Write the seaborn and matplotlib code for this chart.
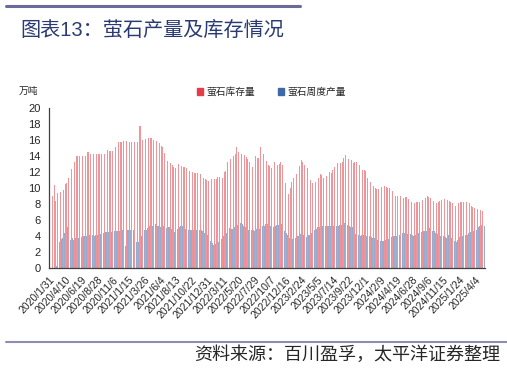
import pandas as pd
import matplotlib
matplotlib.use("Agg")
import matplotlib.pyplot as plt
from matplotlib.lines import Line2D
from matplotlib.patches import Patch
import seaborn as sns

# weekly fluorite inventory (万吨)
inventory = [
    9.1, 8.95, 8.95, 10.4, 8.4, 9.4, 9.45, 9.45, 9.5, 9.75,
    10.5, 10.6, 11.2, 11.5, 12.4, 12.8, 13.3, 14.0, 14.0, 14.0,
    14.0, 14.0, 14.3, 14.0, 14.5, 14.5, 14.25, 14.25, 14.25, 14.1,
    14.3, 14.25, 14.25, 14.25, 14.3, 14.3, 14.5, 14.75, 14.6, 14.6,
    14.6, 15.1, 15.1, 15.1, 15.8, 15.8, 15.8, 15.85, 8.6, 15.9,
    15.75, 15.8, 15.8, 15.8, 15.8, 15.8, 15.8, 17.8, 17.8, 16.0,
    16.0, 16.1, 16.2, 16.25, 16.25, 16.2, 16.0, 15.9, 15.9, 15.75,
    15.6, 15.2, 15.1, 14.4, 14.0, 13.4, 13.1, 13.1, 12.9, 12.6,
    12.5, 12.55, 13.0, 13.0, 12.7, 12.65, 12.6, 12.5, 12.3, 12.1,
    12.0, 11.95, 11.9, 11.85, 11.85, 11.85, 11.75, 11.6, 11.3, 11.1,
    10.95, 10.85, 11.05, 11.1, 11.1, 11.1, 11.15, 11.4, 11.35, 11.3,
    11.25, 12.0, 12.1, 13.3, 13.55, 13.6, 13.85, 14.0, 14.25, 15.1,
    14.5, 14.4, 14.3, 14.4, 14.1, 13.85, 13.6, 13.3, 12.9, 12.6,
    13.1, 14.0, 13.75, 13.8, 15.1, 14.5, 14.2, 13.75, 13.4, 12.9,
    12.7, 12.5, 12.5, 13.2, 13.1, 12.9, 13.0, 13.25, 12.9, 12.0,
    10.6, 9.25, 9.25, 10.0, 10.8, 11.25, 11.45, 11.75, 12.1, 12.8,
    13.55, 13.2, 12.9, 12.8, 12.5, 11.9, 11.0, 10.6, 10.5, 10.7,
    11.05, 11.25, 11.75, 11.6, 11.3, 11.25, 11.45, 12.0, 12.0, 11.9,
    12.3, 12.6, 12.9, 13.1, 13.25, 13.1, 13.3, 13.75, 14.1, 13.6,
    13.6, 13.7, 13.55, 13.1, 13.25, 13.25, 13.1, 12.9, 12.6, 12.3,
    12.2, 12.1, 11.3, 10.9, 10.75, 10.5, 10.2, 10.0, 9.9, 9.9,
    10.0, 10.1, 10.3, 10.2, 10.1, 10.0, 10.0, 9.9, 9.6, 9.1,
    9.0, 9.0, 8.7, 9.0, 9.0, 8.75, 8.9, 8.9, 8.6, 8.5,
    8.3, 8.2, 8.1, 8.25, 8.3, 8.25, 8.3, 8.5, 8.75, 8.8,
    8.95, 8.9, 8.8, 8.6, 8.4, 8.3, 8.1, 8.2, 8.4, 8.5,
    8.6, 8.6, 8.6, 8.5, 8.4, 8.25, 8.1, 7.8, 7.7, 7.9,
    8.1, 8.2, 8.3, 8.2, 8.3, 8.3, 8.25, 8.1, 7.7, 7.6,
    7.5, 7.5, 7.4, 7.3, 7.3, 7.1, 6.7,
]

# weekly fluorite output (万吨)
production = [
    0, 0, 0, 1.2, 0.3, 2.6, 3.3, 3.6, 3.7, 4.4,
    5.2, 5.1, 3.7, 3.5, 3.75, 3.55, 3.7, 3.75, 3.75, 3.8,
    3.9, 4.0, 4.0, 3.95, 4.1, 4.1, 4.1, 4.1, 4.05, 4.1,
    4.1, 4.15, 4.25, 4.4, 4.4, 4.45, 4.5, 4.5, 4.55, 4.5,
    4.6, 4.6, 4.6, 4.65, 4.6, 4.8, 4.75, 4.75, 2.7, 4.75,
    4.7, 4.7, 4.75, 4.7, 4.65, 3.3, 3.25, 3.7, 4.0, 4.3,
    4.7, 4.8, 5.0, 5.2, 5.3, 5.3, 5.35, 5.5, 5.2, 5.2,
    5.1, 5.2, 5.25, 5.15, 5.0, 5.1, 5.15, 4.9, 4.7, 4.5,
    4.7, 4.9, 5.15, 5.3, 5.3, 5.2, 4.9, 4.8, 4.8, 4.8,
    4.8, 4.8, 4.8, 4.8, 4.8, 4.8, 4.7, 4.6, 4.4, 4.25,
    4.1, 3.8, 3.4, 3.1, 2.9, 3.0, 3.1, 3.3, 3.55, 3.65,
    4.0, 4.3, 4.4, 4.9, 5.0, 4.9, 4.9, 5.1, 5.2, 5.4,
    5.65, 5.6, 5.5, 5.25, 5.1, 4.9, 4.8, 4.7, 4.7, 4.7,
    4.6, 4.9, 4.85, 4.85, 4.8, 5.2, 5.3, 5.5, 5.5, 5.5,
    5.2, 4.9, 5.1, 5.3, 5.4, 5.4, 5.5, 5.5, 4.8, 4.6,
    4.4, 4.1, 3.75, 3.65, 3.65, 3.6, 3.75, 3.95, 4.0, 4.25,
    4.1, 4.15, 3.95, 3.9, 4.1, 4.15, 4.4, 4.6, 4.8, 4.9,
    5.1, 5.15, 5.3, 5.25, 5.3, 5.25, 5.3, 5.25, 5.3, 5.25,
    5.2, 5.15, 5.3, 5.3, 5.35, 5.4, 5.5, 5.65, 5.6, 5.4,
    5.3, 5.15, 5.15, 4.8, 4.25, 4.25, 4.15, 4.0, 4.1, 4.1,
    4.1, 4.0, 3.95, 3.95, 3.85, 3.75, 3.75, 3.65, 3.55, 3.4,
    3.35, 3.35, 3.35, 3.45, 3.55, 3.6, 3.6, 3.9, 4.05, 4.05,
    4.05, 4.05, 4.15, 4.4, 4.4, 4.4, 4.4, 4.25, 4.25, 4.25,
    4.1, 3.95, 4.15, 4.4, 4.4, 4.4, 4.45, 4.6, 4.6, 4.6,
    4.9, 5.0, 4.9, 4.65, 4.6, 4.4, 4.25, 4.15, 4.05, 4.05,
    4.05, 3.9, 3.75, 4.1, 3.95, 3.75, 3.55, 3.35, 3.25, 3.55,
    3.85, 3.9, 4.05, 4.05, 4.1, 4.15, 4.4, 4.55, 4.6, 4.65,
    4.6, 4.8, 5.1, 5.2, 5.35, 5.4, 5.3,
]

tick_labels = [
    "2020/1/31", "2020/4/10", "2020/6/19", "2020/8/28", "2020/11/6",
    "2021/1/15", "2021/3/26", "2021/6/4", "2021/8/13", "2021/10/22",
    "2021/12/31", "2022/3/11", "2022/5/20", "2022/7/29", "2022/10/7",
    "2022/12/16", "2023/2/24", "2023/5/5", "2023/7/14", "2023/9/22",
    "2023/12/1", "2024/2/9", "2024/4/19", "2024/6/28", "2024/9/6",
    "2024/11/15", "2025/1/24", "2025/4/4",
]
series_names = ["萤石库存量", "萤石周度产量"]
colors = ["#e43c48", "#3e68a6"]

dates = pd.date_range("2020-01-31", periods=len(inventory), freq="7D")
date_labels = [f"{d.year}/{d.month}/{d.day}" for d in dates]

df = pd.DataFrame({
    "date": date_labels * 2,
    "series": [series_names[0]] * len(inventory) + [series_names[1]] * len(production),
    "value": inventory + production,
})

sns.set_theme(style="white")
plt.rcParams["font.family"] = ["Liberation Sans", "Noto Sans CJK SC"]

fig = plt.figure(figsize=(5.07, 3.71), dpi=100)
ax = fig.add_axes([49 / 507, 1 - 268 / 371, 436 / 507, 160 / 371])

sns.barplot(data=df, x="date", y="value", hue="series", order=date_labels,
            hue_order=series_names, palette=colors, dodge=True, width=0.9,
            errorbar=None, linewidth=0, saturation=1, legend=False, ax=ax)
# thin Excel-like columns render much lighter than their nominal colour
for p in ax.patches:
    p.set_alpha(0.55)

ax.set_xlim(-0.5, len(date_labels) - 0.5)
ax.set_ylim(0, 20)
ax.set_yticks(range(0, 21, 2))
ax.set_xticks([date_labels.index(t) for t in tick_labels])
ax.set_xticklabels(tick_labels, rotation=47, ha="right", rotation_mode="anchor", fontsize=7.5)
ax.tick_params(axis="y", direction="in", length=3, width=0.8, labelsize=8, pad=6, color="#404040")
ax.tick_params(axis="x", direction="out", length=3, width=0.8, pad=2, color="#404040")
ax.set_xlabel("")
ax.set_ylabel("")
for s in ["top", "right"]:
    ax.spines[s].set_visible(False)
for s in ["left", "bottom"]:
    ax.spines[s].set_color("#404040")
    ax.spines[s].set_linewidth(0.9)

handles = [Patch(color=c) for c in colors]
ax.legend(handles, series_names, loc="center", bbox_to_anchor=(0.51, 1.1), ncol=2,
          frameon=False, fontsize=7, handlelength=0.6, handleheight=0.6,
          handletextpad=0.3, columnspacing=2.4)

fig.text(28 / 507, 1 - 91 / 371, "万吨", ha="center", va="center", fontsize=7)

# header
fig.add_artist(Line2D([6 / 507, 300 / 507], [1 - 6 / 371] * 2, color="#6b6b9b", lw=2.2))
fig.text(20 / 507, 1 - 30 / 371, "图表13：萤石产量及库存情况", fontsize=14.5,
         color="#2a3b74", ha="left", va="center")

# footer
fig.add_artist(Line2D([6 / 507, 1.0], [1 - 342 / 371] * 2, color="#8d8db5", lw=1.5))
fig.text(500 / 507, 1 - 355 / 371, "资料来源：百川盈孚，太平洋证券整理", fontsize=13,
         ha="right", va="center")

fig.savefig("out.png", dpi=100)
